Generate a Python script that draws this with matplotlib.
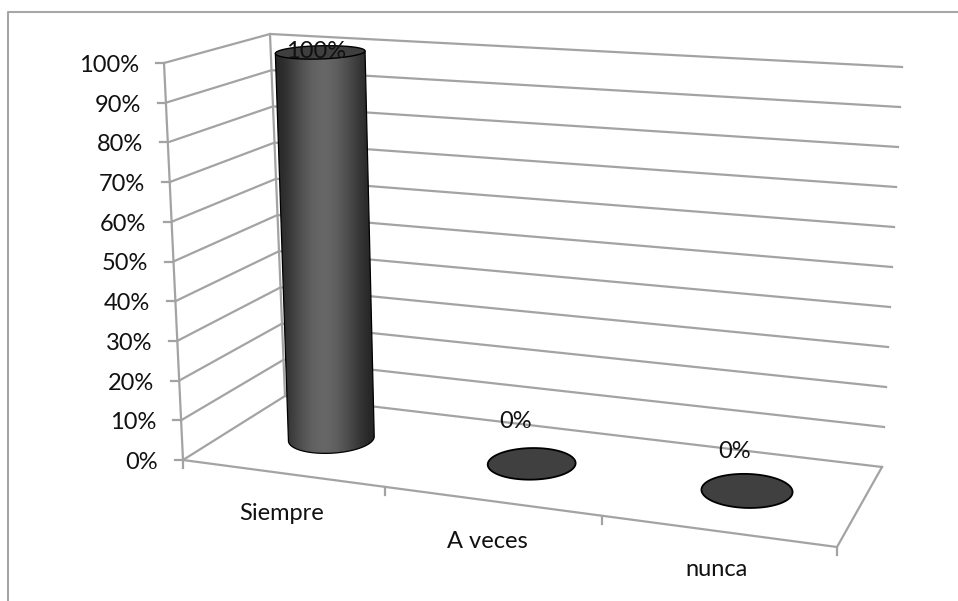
import numpy as np
import matplotlib
matplotlib.use("Agg")
import matplotlib.pyplot as plt
from matplotlib.patches import Polygon

categories = ["Siempre", "A veces", "nunca"]
values = [100, 0, 0]
value_ticks = [0, 10, 20, 30, 40, 50, 60, 70, 80, 90, 100]
value_labels = ["0%", "10%", "20%", "30%", "40%", "50%", "60%", "70%", "80%", "90%", "100%"]
data_labels = ["100%", "0%", "0%"]

GRID = "#a3a3a3"
FS = 17
plt.rcParams["font.family"] = ["Lato", "DejaVu Sans"]

W, H = 958, 601
fig = plt.figure(figsize=(W / 100, H / 100), dpi=100)
ax = fig.add_axes([0, 0, 1, 1])
ax.set_xlim(0, W)
ax.set_ylim(H, 0)
ax.axis("off")

# Scene corners in figure pixels: (front-left, front-right, back-right, back-left)
floor_q = np.array([(183, 460), (837, 547), (882, 467), (285, 396)], float)
top_q = np.array([(164, 63), (815, 107), (902, 67), (270, 34)], float)
offsets = top_q - floor_q


def homography(q):
    src = [(0, 0), (3, 0), (3, 1), (0, 1)]
    A, b = [], []
    for (u, v), (x, y) in zip(src, q):
        A.append([u, v, 1, 0, 0, 0, -u * x, -v * x])
        A.append([0, 0, 0, u, v, 1, -u * y, -v * y])
        b += [x, y]
    return np.append(np.linalg.solve(np.array(A, float), np.array(b, float)), 1).reshape(3, 3)


HF = homography(floor_q)


def project(c, d, pct=0):
    """Category position c (0..3), depth d (0..1), value pct (0..100) -> pixels."""
    c = np.atleast_1d(np.asarray(c, float))
    d = np.atleast_1d(np.asarray(d, float)) * np.ones_like(c)
    a = HF @ np.stack([c, d, np.ones_like(c)])
    a = (a[:2] / a[2]).T
    s = (c / 3)[:, None]
    e = d[:, None]
    off = ((1 - s) * (1 - e) * offsets[0] + s * (1 - e) * offsets[1]
           + s * e * offsets[2] + (1 - s) * e * offsets[3])
    return a + off * pct / 100


def line(pts, lw=1.6, color=GRID, z=1):
    pts = np.asarray(pts)
    ax.plot(pts[:, 0], pts[:, 1], color=color, lw=lw, solid_capstyle="projecting", zorder=z)


# chart area border (cropped by the image at right and bottom)
line([(8, H + 5), (8, 12), (W + 5, 12)], lw=1.5, color="#a6a6a6")

# walls, gridlines
for v, lab in zip(value_ticks, value_labels):
    fl = project(0, 0, v)[0]
    bl = project(0, 1, v)[0]
    br = project(3, 1, v)[0]
    line([fl, bl, br])
    line([fl, (fl[0] - 8, fl[1])])
    ax.text(fl[0] - 25, fl[1] + 2.5, lab, ha="right", va="center", fontsize=FS, color="#111111")
line([project(0, 0, 0)[0], project(0, 0, 100)[0]])
line([project(0, 1, 0)[0], project(0, 1, 100)[0]], z=0)

# floor edges, category ticks, category labels
line([project(0, 0)[0], project(3, 0)[0], project(3, 1)[0]])
for c in range(4):
    p = project(c, 0)[0]
    line([p, (p[0], p[1] + 8)])
label_xy = [(282, 513), (487, 541), (717, 570)]
for name, (x, y) in zip(categories, label_xy):
    ax.text(x, y, name, ha="center", va="center", fontsize=FS, color="#111111")

# cylinders
N = 180
theta = np.linspace(0, 2 * np.pi, N, endpoint=False)
RC, RD = 0.197, 0.21
LEAN = 3.0
gradient = np.array([[0.16, 0.20, 0.27, 0.33, 0.38, 0.40, 0.40, 0.37, 0.32, 0.26, 0.20, 0.15]])
for i, v in enumerate(values):
    cc = i + 0.5
    cu = cc + RC * np.cos(theta)
    du = 0.5 + RD * np.sin(theta)
    base = project(cu, du, 0)
    if v > 0:
        top = project(cu, du, v) + [LEAN * v / 100, 0]
        i_r, i_l = np.argmax(base[:, 0]), np.argmin(base[:, 0])
        arc = [(i_r - k) % N for k in range((i_r - i_l) % N + 1)]
        body = np.vstack([top[np.argmin(top[:, 0])], top[np.argmax(top[:, 0])], base[arc]])
        ax.add_patch(Polygon(body, closed=True, fc="none", ec="black", lw=0.9, zorder=3))
        im = ax.imshow(gradient, extent=(body[:, 0].min(), body[:, 0].max(), H, 0), aspect="auto",
                       cmap="gray", vmin=0, vmax=1, interpolation="bicubic", zorder=2)
        im.set_clip_path(Polygon(body, closed=True, transform=ax.transData))
        ax.add_patch(Polygon(top, closed=True, fc="#3f3f3f", ec="black", lw=1.0, zorder=4))
    else:
        ax.add_patch(Polygon(base, closed=True, fc="#404040", ec="black", lw=1.3, zorder=4))

ax.set_xlim(0, W)
ax.set_ylim(H, 0)

# data labels
lab_xy = [(316, 51), (516, 422), (735, 452)]
for s, (x, y) in zip(data_labels, lab_xy):
    ax.text(x, y, s, ha="center", va="center", fontsize=FS, color="#111111", zorder=6)

fig.savefig("out.png", dpi=100, facecolor="white")
